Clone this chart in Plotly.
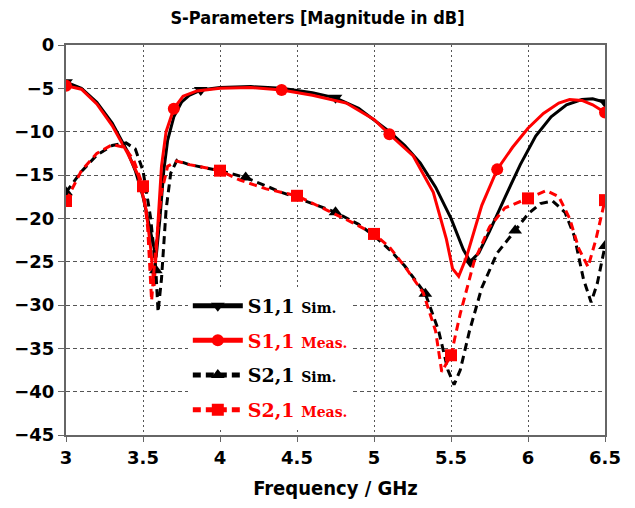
import plotly.graph_objects as go

# ---------------- data ----------------
f_s11_sim = [3.0, 3.1, 3.2, 3.3, 3.4, 3.45, 3.5, 3.55, 3.585, 3.61, 3.635, 3.66, 3.7, 3.75, 3.8,
             3.875, 4.0, 4.2, 4.4, 4.6, 4.75, 4.9, 5.0, 5.1, 5.2, 5.3, 5.4, 5.5, 5.58, 5.625,
             5.68, 5.75, 5.85, 5.95, 6.05, 6.15, 6.25, 6.35, 6.42, 6.5]
s11_sim = [-4.3, -5.0, -6.6, -9.0, -12.3, -14.5, -17.5, -21.5, -24.5, -20.0, -14.5, -11.0, -8.3, -6.6, -5.8,
           -5.2, -4.9, -4.8, -5.0, -5.5, -6.1, -7.3, -8.6, -10.0, -11.6, -13.6, -16.4, -20.0, -23.6, -25.0,
           -24.0, -21.5, -17.6, -13.8, -10.5, -8.3, -6.9, -6.3, -6.2, -6.6]

f_s11_meas = [3.0, 3.1, 3.2, 3.3, 3.4, 3.47, 3.52, 3.55, 3.572, 3.595, 3.62, 3.65, 3.7, 3.76, 3.85,
              4.0, 4.2, 4.4, 4.6, 4.82, 5.0, 5.1, 5.255, 5.385, 5.47, 5.51, 5.55, 5.6, 5.7, 5.8,
              5.9, 6.0, 6.1, 6.2, 6.27, 6.35, 6.42, 6.5]
s11_meas = [-4.7, -5.1, -6.8, -9.3, -12.5, -15.1, -19.0, -23.5, -27.8, -21.0, -14.0, -10.0, -7.35, -5.9, -5.3,
            -5.0, -4.9, -5.2, -5.8, -6.7, -8.6, -10.3, -12.8, -17.0, -22.4, -25.8, -26.7, -24.5, -18.5, -14.35,
            -11.8, -9.6, -7.9, -6.7, -6.3, -6.4, -6.9, -7.8]

f_s21_sim = [3.0, 3.1, 3.2, 3.3, 3.39, 3.45, 3.5, 3.55, 3.5833, 3.598, 3.62, 3.65, 3.68, 3.72, 3.8,
             4.0, 4.1667, 4.4, 4.6, 4.75, 4.9, 5.0, 5.1, 5.2, 5.3333, 5.42, 5.48, 5.52, 5.56, 5.62,
             5.7, 5.8, 5.9167, 6.0, 6.08, 6.16, 6.24, 6.3, 6.36, 6.41, 6.45, 6.5]
s21_sim = [-17.0, -14.6, -12.7, -11.6, -11.3, -12.0, -14.5, -20.0, -26.0, -30.8, -27.0, -19.0, -14.8, -13.3, -13.8,
           -14.5, -15.3, -17.0, -18.3, -19.3, -20.7, -22.0, -23.6, -25.5, -28.7, -33.0, -37.5, -39.2, -37.5, -33.0,
           -28.0, -24.0, -21.4, -19.5, -18.3, -18.0, -19.3, -22.0, -27.0, -29.7, -27.5, -23.2]

f_s21_meas = [3.0, 3.1, 3.2, 3.3, 3.38, 3.44, 3.5, 3.53, 3.556, 3.58, 3.62, 3.66, 3.72, 3.8, 4.0,
              4.13, 4.3, 4.5, 4.7, 4.85, 5.0, 5.1, 5.21, 5.32, 5.4, 5.44, 5.5, 5.56, 5.65, 5.75,
              5.85, 6.0, 6.12, 6.2, 6.27, 6.33, 6.39, 6.44, 6.5]
s21_meas = [-18.0, -14.5, -12.5, -11.5, -11.8, -13.3, -16.3, -21.0, -29.5, -24.0, -17.0, -14.0, -13.4, -13.8, -14.5,
            -15.6, -16.6, -17.4, -19.1, -20.4, -21.8, -23.3, -25.8, -28.6, -33.0, -37.7, -35.8, -31.0, -25.0, -21.0,
            -18.8, -17.7, -16.8, -17.5, -20.0, -23.5, -25.6, -22.5, -17.9]

# marker frequencies (values looked up exactly from the curves above)
mk_s11_sim = [3.0, 3.875, 4.75, 5.625, 6.5]
mk_s11_meas = [3.0, 3.7, 4.4, 5.1, 5.8, 6.5]
mk_s21_sim = [3.0, 3.5833, 4.1667, 4.75, 5.3333, 5.9167, 6.5]
mk_s21_meas = [3.0, 3.5, 4.0, 4.5, 5.0, 5.5, 6.0, 6.5]

x_ticks = [3, 3.5, 4, 4.5, 5, 5.5, 6, 6.5]
x_tick_text = ["3", "3.5", "4", "4.5", "5", "5.5", "6", "6.5"]
y_ticks = [0, -5, -10, -15, -20, -25, -30, -35, -40, -45]

title_text = "S-Parameters [Magnitude in dB]"
x_title = "Frequency / GHz"

SMALL = "font-family:'DejaVu Serif';font-size:14px;font-weight:bold"
names = [
    "<b>S1,1</b> <span style=\"%s\">Sim.</span>" % SMALL,
    "<span style=\"color:#ff0000\"><b>S1,1</b> <span style=\"%s\">Meas.</span></span>" % SMALL,
    "<b>S2,1</b> <span style=\"%s\">Sim.</span>" % SMALL,
    "<span style=\"color:#ff0000\"><b>S2,1</b> <span style=\"%s\">Meas.</span></span>" % SMALL,
]

series = [
    (f_s11_sim, s11_sim, mk_s11_sim, "#000000", "solid", "triangle-down", 12),
    (f_s11_meas, s11_meas, mk_s11_meas, "#ff0000", "solid", "circle", 12),
    (f_s21_sim, s21_sim, mk_s21_sim, "#000000", "8px,5px", "triangle-up", 12),
    (f_s21_meas, s21_meas, mk_s21_meas, "#ff0000", "8px,5px", "square", 12),
]

fig = go.Figure()
for i, (fx, fy, mk, col, dash, sym, ms) in enumerate(series):
    lookup = dict(zip(fx, fy))
    fig.add_trace(go.Scatter(x=fx, y=fy, mode="lines", line=dict(color=col, width=3, dash=dash),
                             showlegend=False, hoverinfo="skip"))
    fig.add_trace(go.Scatter(x=mk, y=[lookup[m] for m in mk], mode="markers",
                             marker=dict(symbol=sym, size=ms, color=col), showlegend=False))
    fig.add_trace(go.Scatter(x=[None], y=[None], mode="lines+markers", name=names[i],
                             legendgroup="g%d" % i,
                             line=dict(color=col, width=3, dash=dash),
                             marker=dict(symbol=sym, size=ms, color=col)))

COND = "DejaVu Sans Condensed, Lato, sans-serif"
axis_font = dict(family="DejaVu Sans", size=18, color="#000000", weight="bold")
fig.update_layout(
    width=635, height=508,
    margin=dict(l=66, r=30, t=45, b=71),
    paper_bgcolor="white", plot_bgcolor="white",
    title=dict(text="<b>" + title_text + "</b>", x=0.5, xanchor="center", y=0.965, yanchor="middle",
               font=dict(family=COND, size=18, color="#000000")),
    legend=dict(x=0.226, y=0.38, xanchor="left", yanchor="top", bgcolor="white",
                font=dict(family="DejaVu Serif", size=19, color="#000000", weight="bold"),
                tracegroupgap=7, itemsizing="constant", itemwidth=50),
    showlegend=True,
)
fig.update_xaxes(range=[3, 6.5], tickvals=x_ticks, ticktext=x_tick_text, tickfont=axis_font,
                 showgrid=True, gridcolor="#555555", griddash="2px,3px", gridwidth=1,
                 showline=True, linecolor="#666666", linewidth=2, mirror=True,
                 ticks="outside", ticklen=5, tickcolor="#666666", zeroline=False,
                 title=dict(text="<b>" + x_title + "</b>", font=dict(family=COND, size=20, color="#000000"),
                            standoff=14))
fig.update_yaxes(range=[-45, 0], tickvals=y_ticks, tickfont=axis_font,
                 showgrid=True, gridcolor="#555555", griddash="4px,3px", gridwidth=1,
                 showline=True, linecolor="#666666", linewidth=2, mirror=True,
                 ticks="outside", ticklen=6, tickcolor="#666666", zeroline=False)

fig.write_html("out.html")
